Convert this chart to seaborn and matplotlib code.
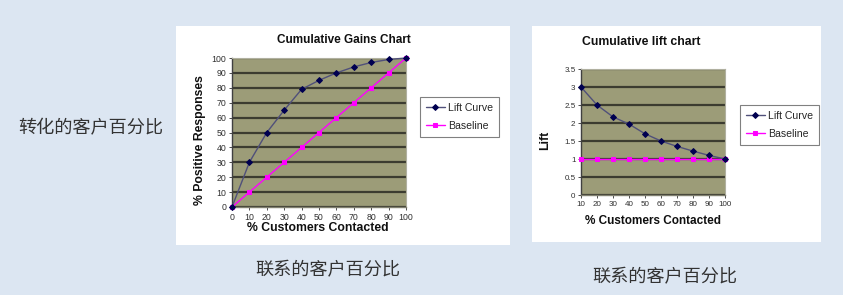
import matplotlib
matplotlib.use("Agg")
import matplotlib.pyplot as plt
from matplotlib.patches import Rectangle
import seaborn as sns
import pandas as pd

# ---- data ----
gains_x = [0, 10, 20, 30, 40, 50, 60, 70, 80, 90, 100]
gains_lift_curve = [0, 30, 50, 65, 79, 85, 90, 94, 97, 99, 100]
gains_baseline = [0, 10, 20, 30, 40, 50, 60, 70, 80, 90, 100]

lift_x = [10, 20, 30, 40, 50, 60, 70, 80, 90, 100]
lift_curve = [3.0, 2.5, 2.17, 1.97, 1.7, 1.5, 1.35, 1.22, 1.1, 1.0]
lift_baseline = [1, 1, 1, 1, 1, 1, 1, 1, 1, 1]

gains_yticks = [0, 10, 20, 30, 40, 50, 60, 70, 80, 90, 100]
lift_yticks = [0, 0.5, 1, 1.5, 2, 2.5, 3, 3.5]
lift_ytick_labels = ["0", "0.5", "1", "1.5", "2", "2.5", "3", "3.5"]

series_names = ["Lift Curve", "Baseline"]

sns.set_theme(style="white")
plt.rcParams['font.family'] = ['Liberation Sans', 'DejaVu Sans']

W, H = 843, 295
fig = plt.figure(figsize=(W / 100, H / 100), dpi=100)
fig.patch.set_facecolor("#DCE6F2")

def px_rect(x0, y0, x1, y1):
    return [x0 / W, 1 - y1 / H, (x1 - x0) / W, (y1 - y0) / H]

def fx(x):
    return x / W

def fy(y):
    return 1 - y / H

# white panels
for (x0, y0, x1, y1) in [(176, 26, 510, 245), (532, 26, 821, 242)]:
    fig.patches.append(Rectangle((x0 / W, 1 - y1 / H), (x1 - x0) / W, (y1 - y0) / H,
                                 transform=fig.transFigure, facecolor="white",
                                 edgecolor="none", zorder=-5))

PLOT_BG = "#9C9C78"
GRID = "#3C3C30"
CURVE_LINE = "#50507A"
CURVE_MARK = "#000050"
BASE = "#FF00FF"
TXT = "#101010"

def style_ax(ax, tsize):
    ax.set_facecolor(PLOT_BG)
    for s in ["top", "right"]:
        ax.spines[s].set_color("#B0B0A0")
        ax.spines[s].set_linewidth(0.8)
    ax.spines["left"].set_color("#404040")
    ax.spines["bottom"].set_color("#808070")
    ax.spines["left"].set_linewidth(1.0)
    ax.spines["bottom"].set_linewidth(1.0)
    ax.yaxis.grid(True, color=GRID, linewidth=1.6)
    ax.xaxis.grid(False)
    ax.set_axisbelow(True)
    ax.tick_params(axis="both", labelsize=tsize, length=2, width=0.6, pad=2,
                   colors="#303030", bottom=True, left=True)

def draw(ax, x, curve, base):
    df = pd.DataFrame({"x": list(x) * 2,
                       "y": list(curve) + list(base),
                       "series": [series_names[0]] * len(x) + [series_names[1]] * len(x)})
    sns.lineplot(data=df[df.series == series_names[0]], x="x", y="y", ax=ax,
                 color=CURVE_LINE, linewidth=1.0, marker="D", markersize=3,
                 markerfacecolor=CURVE_MARK, markeredgecolor=CURVE_MARK,
                 label=series_names[0], clip_on=False, zorder=4)
    sns.lineplot(data=df[df.series == series_names[1]], x="x", y="y", ax=ax,
                 color=BASE, linewidth=1.0, marker="s", markersize=3.5,
                 markerfacecolor=BASE, markeredgecolor=BASE,
                 label=series_names[1], clip_on=False, zorder=3)

def legend(ax, x0, y0, ax_x0, ax_y1, ax_w, ax_h):
    leg = ax.legend(loc="upper left",
                    bbox_to_anchor=((x0 - ax_x0) / ax_w, (ax_y1 - y0) / ax_h),
                    fontsize=7.6, frameon=True, fancybox=False, edgecolor="#606060",
                    handlelength=1.8, handletextpad=0.3, borderpad=0.55,
                    labelspacing=0.75, borderaxespad=0)
    leg.get_frame().set_linewidth(0.8)
    return leg

# ---- left chart ----
ax1 = fig.add_axes(px_rect(232, 58, 406, 207))
draw(ax1, gains_x, gains_lift_curve, gains_baseline)
style_ax(ax1, 6.3)
ax1.set_xlim(0, 100)
ax1.set_ylim(0, 100)
ax1.set_xticks(gains_x)
ax1.set_yticks(gains_yticks)
ax1.set_xlabel("")
ax1.set_ylabel("")
fig.text(fx(344), fy(40), "Cumulative Gains Chart", fontsize=8.5, fontweight="bold",
         color=TXT, ha="center", va="center")
fig.text(fx(318), fy(228), "% Customers Contacted", fontsize=8.8, fontweight="bold",
         color=TXT, ha="center", va="center")
fig.text(fx(200), fy(140), "% Positive Responses", fontsize=8.8, fontweight="bold",
         color=TXT, ha="center", va="center", rotation=90)
legend(ax1, 420, 97, 232, 207, 174, 149)

# ---- right chart ----
ax2 = fig.add_axes(px_rect(581, 69, 725, 195))
draw(ax2, lift_x, lift_curve, lift_baseline)
style_ax(ax2, 5.8)
ax2.set_xlim(10, 100)
ax2.set_ylim(0, 3.5)
ax2.set_xticks(lift_x)
ax2.set_yticks(lift_yticks)
ax2.set_yticklabels(lift_ytick_labels)
ax2.set_xlabel("")
ax2.set_ylabel("")
fig.text(fx(641), fy(42), "Cumulative lift chart", fontsize=8.8, fontweight="bold",
         color=TXT, ha="center", va="center")
fig.text(fx(653), fy(221), "% Customers Contacted", fontsize=8.5, fontweight="bold",
         color=TXT, ha="center", va="center")
fig.text(fx(545), fy(140), "Lift", fontsize=8.8, fontweight="bold",
         color=TXT, ha="center", va="center", rotation=90)
legend(ax2, 740, 105, 581, 195, 144, 126)

# ---- Chinese annotations ----
cjk = ['Noto Sans CJK SC', 'DejaVu Sans']
fig.text(fx(18), fy(128), "转化的客户百分比", fontsize=13.1, family=cjk,
         color="#333333", va="center", ha="left")
fig.text(fx(328), fy(270), "联系的客户百分比", fontsize=13.1, family=cjk,
         color="#333333", va="center", ha="center")
fig.text(fx(665), fy(277), "联系的客户百分比", fontsize=13.1, family=cjk,
         color="#333333", va="center", ha="center")

fig.savefig("out.png", dpi=100, facecolor=fig.get_facecolor())
